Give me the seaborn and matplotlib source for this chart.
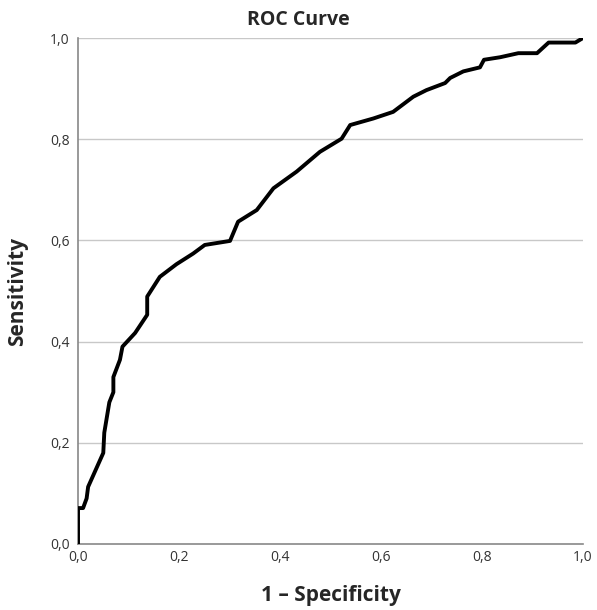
import matplotlib
matplotlib.use('Agg')
import matplotlib.pyplot as plt
import seaborn as sns
import pandas as pd
from matplotlib.ticker import FuncFormatter

# ROC points
fpr = [0.0, 0.0, 0.01, 0.017, 0.02, 0.05, 0.052, 0.062, 0.07, 0.07, 0.083, 0.088,
       0.113, 0.137, 0.137, 0.162, 0.195, 0.228, 0.251, 0.301, 0.317, 0.354, 0.387,
       0.433, 0.479, 0.522, 0.539, 0.585, 0.624, 0.664, 0.69, 0.727, 0.737, 0.763,
       0.796, 0.804, 0.836, 0.872, 0.909, 0.932, 0.985, 1.0]
tpr = [0.0, 0.071, 0.071, 0.09, 0.113, 0.18, 0.22, 0.28, 0.30, 0.33, 0.364, 0.39,
       0.417, 0.453, 0.489, 0.528, 0.553, 0.574, 0.591, 0.599, 0.637, 0.660, 0.703,
       0.736, 0.775, 0.801, 0.828, 0.841, 0.854, 0.884, 0.897, 0.911, 0.921, 0.934,
       0.942, 0.957, 0.962, 0.970, 0.970, 0.991, 0.991, 1.0]
ticks = [0.0, 0.2, 0.4, 0.6, 0.8, 1.0]

sns.set_style('white')
plt.rcParams['font.family'] = ['Open Sans', 'DejaVu Sans']

df = pd.DataFrame({'fpr': fpr, 'tpr': tpr})

fig = plt.figure(figsize=(5.97, 6.10), dpi=100)
ax = fig.add_axes([0.1307, 0.1082, 0.8458, 0.8295])

for t in ticks[1:]:
    ax.axhline(t, color='#c8c8c8', lw=1.0, zorder=0)

sns.lineplot(data=df, x='fpr', y='tpr', sort=False, estimator=None,
             color='black', lw=2.8, ax=ax, zorder=3)

ax.set_xlim(0, 1)
ax.set_ylim(0, 1)
ax.set_xticks(ticks)
ax.set_yticks(ticks)
fmt = FuncFormatter(lambda v, p: f"{v:.1f}".replace('.', ','))
ax.xaxis.set_major_formatter(fmt)
ax.yaxis.set_major_formatter(fmt)
ax.tick_params(axis='x', labelsize=10, length=0, pad=4, colors='#333333')
ax.tick_params(axis='y', labelsize=10, length=0, pad=6, colors='#333333')

for s in ['top', 'right']:
    ax.spines[s].set_visible(False)
for s in ['left', 'bottom']:
    ax.spines[s].set_color('#888888')
    ax.spines[s].set_linewidth(1.2)

ax.set_xlabel('1 – Specificity', fontsize=15, fontweight='bold', va='center')
ax.set_ylabel('Sensitivity', fontsize=15, fontweight='bold', va='center')
ax.xaxis.set_label_coords(0.5, -0.101)
ax.yaxis.set_label_coords(-0.119, 0.5)
fig.suptitle('ROC Curve', fontsize=14, fontweight='bold', y=0.967, va='center')

fig.savefig('out.png', dpi=100)
